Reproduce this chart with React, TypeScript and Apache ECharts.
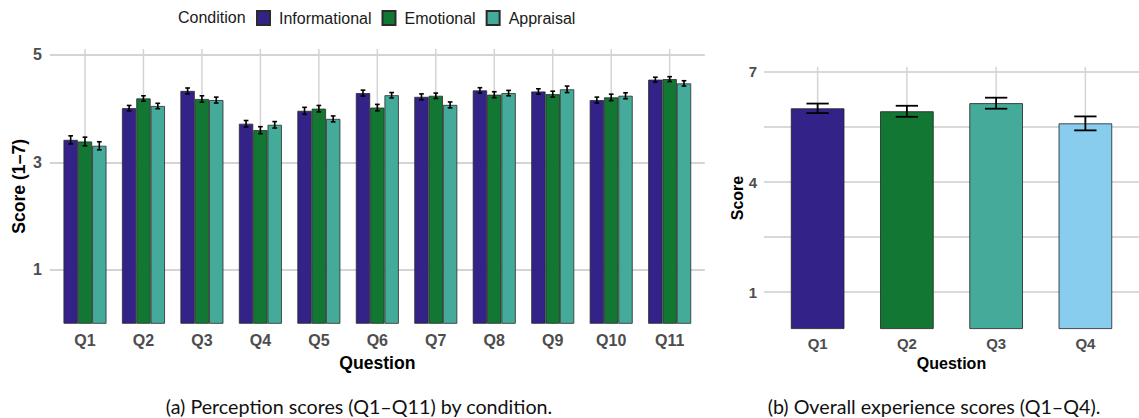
import React, { useEffect, useRef } from 'react';
import * as echarts from 'echarts';

// ---------- data ----------
const questions = ['Q1', 'Q2', 'Q3', 'Q4', 'Q5', 'Q6', 'Q7', 'Q8', 'Q9', 'Q10', 'Q11'];
const conditions = ['Informational', 'Emotional', 'Appraisal'];
const informational = [3.42, 4.01, 4.33, 3.72, 3.96, 4.29, 4.22, 4.34, 4.32, 4.16, 4.54];
const emotional = [3.39, 4.19, 4.18, 3.6, 4.0, 4.02, 4.24, 4.26, 4.27, 4.21, 4.55];
const appraisal = [3.31, 4.05, 4.16, 3.7, 3.81, 4.25, 4.07, 4.29, 4.36, 4.24, 4.47];
const informationalErr = [0.075, 0.05, 0.055, 0.06, 0.065, 0.055, 0.055, 0.05, 0.05, 0.055, 0.045];
const emotionalErr = [0.08, 0.05, 0.06, 0.065, 0.06, 0.06, 0.05, 0.055, 0.055, 0.06, 0.045];
const appraisalErr = [0.075, 0.05, 0.055, 0.06, 0.055, 0.05, 0.055, 0.05, 0.06, 0.055, 0.05];
const perceptionTicks = [1, 3, 5];

const overallQuestions = ['Q1', 'Q2', 'Q3', 'Q4'];
const overallScores = [6.01, 5.93, 6.15, 5.6];
const overallErr = [0.13, 0.15, 0.15, 0.19];
const overallTicks = [1, 4, 7];

const conditionColors = ['#332288', '#117733', '#44AA99'];
const overallColors = ['#332288', '#117733', '#44AA99', '#88CCEE'];

// ---------- style constants ----------
const FONT = "'Liberation Sans', Arial, Helvetica, sans-serif";
const CAPTION_FONT = "Lato, 'Open Sans', sans-serif";
const TICK_COLOR = '#4d4d4d';
const GRID_COLOR = '#d4d4d4';
const LEFT_MAX = 5.11;
const RIGHT_MAX = 7.136;

function vGridItem(yMax: number) {
  return (params: any, api: any) => {
    const i = api.value(0);
    const p0 = api.coord([i, 0]);
    const p1 = api.coord([i, yMax]);
    return {
      type: 'line',
      shape: { x1: p0[0], y1: p1[1], x2: p0[0], y2: p0[1] },
      style: { stroke: GRID_COLOR, lineWidth: 1.5 },
    };
  };
}

function errorBarItem(offsetFrac: number, capFrac: number, lw: number) {
  return (params: any, api: any) => {
    const i = api.value(0);
    const v = api.value(1);
    const e = api.value(2);
    const band = api.size([1, 0])[0];
    const x = api.coord([i, v])[0] + offsetFrac * band;
    const yHi = api.coord([i, v + e])[1];
    const yLo = api.coord([i, v - e])[1];
    const half = (capFrac * band) / 2;
    const style = { stroke: '#000', lineWidth: lw };
    return {
      type: 'group',
      children: [
        { type: 'line', shape: { x1: x, y1: yHi, x2: x, y2: yLo }, style },
        { type: 'line', shape: { x1: x - half, y1: yHi, x2: x + half, y2: yHi }, style },
        { type: 'line', shape: { x1: x - half, y1: yLo, x2: x + half, y2: yLo }, style },
      ],
    };
  };
}

function buildOption(): any {
  const condValues = [informational, emotional, appraisal];
  const condErrs = [informationalErr, emotionalErr, appraisalErr];
  const barFrac = 0.245;

  const barSeries = conditions.map((name, k) => ({
    name,
    type: 'bar',
    xAxisIndex: 1,
    yAxisIndex: 1,
    data: condValues[k],
    barWidth: barFrac * 100 + '%',
    barGap: '0%',
    z: 2,
    itemStyle: { color: conditionColors[k], borderColor: '#2b2b2b', borderWidth: 0.8 },
  }));

  const errSeries = conditions.map((name, k) => ({
    type: 'custom',
    xAxisIndex: 1,
    yAxisIndex: 1,
    z: 3,
    silent: true,
    renderItem: errorBarItem((k - 1) * barFrac, 0.08, 1.6),
    data: condValues[k].map((v, i) => [i, v, condErrs[k][i]]),
  }));

  return {
    animation: false,
    backgroundColor: '#ffffff',
    textStyle: { fontFamily: FONT },
    legend: {
      data: conditions,
      left: 256,
      top: 10,
      itemWidth: 13,
      itemHeight: 14,
      itemGap: 10,
      icon: 'rect',
      textStyle: { fontSize: 16, color: '#1a1a1a', fontFamily: FONT, padding: [0, 0, 0, 4] },
      selectedMode: false,
      padding: 0,
    },
    graphic: [
      {
        type: 'text',
        x: 178,
        y: 17,
        style: { text: 'Condition', fontSize: 16, fill: '#1a1a1a', fontFamily: FONT, verticalAlign: 'middle' },
      },
      {
        type: 'text',
        x: 359,
        y: 406,
        style: {
          text: '(a) Perception scores (Q1–Q11) by condition.',
          fontSize: 19.7,
          fill: '#111',
          fontFamily: CAPTION_FONT,
          align: 'center',
          verticalAlign: 'middle',
        },
      },
      {
        type: 'text',
        x: 934,
        y: 406,
        style: {
          text: '(b) Overall experience scores (Q1–Q4).',
          fontSize: 19.7,
          fill: '#111',
          fontFamily: CAPTION_FONT,
          align: 'center',
          verticalAlign: 'middle',
        },
      },
    ],
    grid: [
      { left: 49.9, right: 434.2, top: 49, bottom: 40.5 },
      { left: 55.75, right: 440.1, top: 49, bottom: 94.25 },
      { left: 764, right: 0, top: 67, bottom: 70.7 },
      { left: 773, right: 9, top: 67, bottom: 89 },
    ],
    xAxis: [
      { gridIndex: 0, type: 'value', min: 0, max: 1, show: false },
      {
        gridIndex: 1,
        type: 'category',
        data: questions,
        axisLine: { show: false },
        axisTick: { show: false },
        splitLine: { show: false },
        axisLabel: { fontSize: 16, fontWeight: 'bold', color: TICK_COLOR, margin: 9, fontFamily: FONT },
        name: 'Question',
        nameLocation: 'middle',
        nameGap: 27,
        nameTextStyle: { fontSize: 17.6, fontWeight: 'bold', color: '#000', fontFamily: FONT },
      },
      { gridIndex: 2, type: 'value', min: 0, max: 1, show: false },
      {
        gridIndex: 3,
        type: 'category',
        data: overallQuestions,
        axisLine: { show: false },
        axisTick: { show: false },
        splitLine: { show: false },
        axisLabel: { fontSize: 15, fontWeight: 'bold', color: TICK_COLOR, margin: 7, fontFamily: FONT },
        name: 'Question',
        nameLocation: 'middle',
        nameGap: 26,
        nameTextStyle: { fontSize: 16, fontWeight: 'bold', color: '#000', fontFamily: FONT },
      },
    ],
    yAxis: [
      {
        gridIndex: 0,
        type: 'value',
        min: -1,
        max: LEFT_MAX,
        interval: 2,
        axisLine: { show: false },
        axisTick: { show: false },
        axisLabel: {
          fontSize: 16,
          fontWeight: 'bold',
          color: TICK_COLOR,
          margin: 8,
          fontFamily: FONT,
          showMinLabel: false,
          showMaxLabel: false,
          formatter: (v: number) => (perceptionTicks.includes(v) ? String(v) : ''),
        },
        splitLine: { show: true, showMinLine: false, showMaxLine: false, lineStyle: { color: GRID_COLOR, width: 2 } },
      },
      {
        gridIndex: 1,
        type: 'value',
        min: 0,
        max: LEFT_MAX,
        axisLine: { show: false },
        axisTick: { show: false },
        axisLabel: { show: false },
        splitLine: { show: false },
        name: 'Score (1–7)',
        nameLocation: 'middle',
        nameGap: 28,
        nameTextStyle: { fontSize: 17.6, fontWeight: 'bold', color: '#000', fontFamily: FONT },
      },
      {
        gridIndex: 2,
        type: 'value',
        min: -0.5,
        max: RIGHT_MAX,
        interval: 1.5,
        axisLine: { show: false },
        axisTick: { show: false },
        axisLabel: {
          fontSize: 15,
          fontWeight: 'bold',
          color: TICK_COLOR,
          margin: 7,
          fontFamily: FONT,
          showMinLabel: false,
          showMaxLabel: false,
          formatter: (v: number) => (overallTicks.includes(v) ? String(v) : ''),
        },
        splitLine: { show: true, showMinLine: false, showMaxLine: false, lineStyle: { color: '#cccccc', width: 1.5 } },
      },
      {
        gridIndex: 3,
        type: 'value',
        min: 0,
        max: RIGHT_MAX,
        axisLine: { show: false },
        axisTick: { show: false },
        axisLabel: { show: false },
        splitLine: { show: false },
        name: 'Score',
        nameLocation: 'middle',
        nameGap: 28,
        nameTextStyle: { fontSize: 16, fontWeight: 'bold', color: '#000', fontFamily: FONT },
      },
    ],
    series: [
      {
        type: 'custom',
        xAxisIndex: 1,
        yAxisIndex: 1,
        z: 1,
        silent: true,
        renderItem: vGridItem(LEFT_MAX),
        data: questions.map((_, i) => [i, 0]),
      },
      ...barSeries,
      ...errSeries,
      {
        type: 'custom',
        xAxisIndex: 3,
        yAxisIndex: 3,
        z: 1,
        silent: true,
        renderItem: vGridItem(RIGHT_MAX),
        data: overallQuestions.map((_, i) => [i, 0]),
      },
      {
        name: 'Overall',
        type: 'bar',
        xAxisIndex: 3,
        yAxisIndex: 3,
        z: 2,
        barWidth: '60%',
        data: overallScores.map((v, i) => ({
          value: v,
          itemStyle: { color: overallColors[i], borderColor: '#222', borderWidth: 0.8 },
        })),
      },
      {
        type: 'custom',
        xAxisIndex: 3,
        yAxisIndex: 3,
        z: 3,
        silent: true,
        renderItem: errorBarItem(0, 0.25, 1.8),
        data: overallScores.map((v, i) => [i, v, overallErr[i]]),
      },
    ],
  };
}

export default function App() {
  const ref = useRef<HTMLDivElement>(null);
  useEffect(() => {
    if (!ref.current) return;
    const chart = echarts.init(ref.current, null, { renderer: 'svg' });
    chart.setOption(buildOption());
    return () => chart.dispose();
  }, []);
  return (
    <div
      ref={ref}
      style={{ position: 'absolute', left: 0, top: 0, width: 1139, height: 418, background: '#fff' }}
    />
  );
}
